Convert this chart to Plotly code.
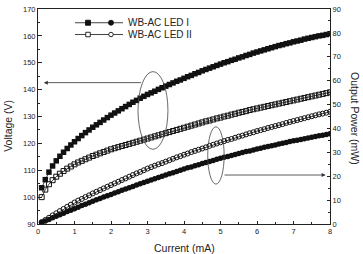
import plotly.graph_objects as go

current_mA = [0.1, 0.2, 0.3, 0.4, 0.5, 0.6, 0.7, 0.8, 0.9, 1.0,
              1.1, 1.2, 1.3, 1.4, 1.5, 1.6, 1.7, 1.8, 1.9, 2.0,
              2.1, 2.2, 2.3, 2.4, 2.5, 2.6, 2.7, 2.8, 2.9, 3.0,
              3.1, 3.2, 3.3, 3.4, 3.5, 3.6, 3.7, 3.8, 3.9, 4.0,
              4.1, 4.2, 4.3, 4.4, 4.5, 4.6, 4.7, 4.8, 4.9, 5.0,
              5.1, 5.2, 5.3, 5.4, 5.5, 5.6, 5.7, 5.8, 5.9, 6.0,
              6.1, 6.2, 6.3, 6.4, 6.5, 6.6, 6.7, 6.8, 6.9, 7.0,
              7.1, 7.2, 7.3, 7.4, 7.5, 7.6, 7.7, 7.8, 7.9, 8.0]

voltage_led1 = [103.5, 106.5, 109.3, 111.6, 113.5, 115.2, 116.7, 118.1, 119.4, 120.6,
                121.8, 122.9, 124.0, 125.0, 126.0, 126.9, 127.8, 128.7, 129.6, 130.5,
                131.3, 132.1, 132.9, 133.7, 134.5, 135.3, 136.0, 136.8, 137.5, 138.2,
                138.8, 139.4, 140.1, 140.7, 141.3, 141.9, 142.5, 143.1, 143.6, 144.2,
                144.8, 145.3, 145.9, 146.4, 147.0, 147.5, 148.0, 148.5, 149.0, 149.5,
                150.0, 150.4, 150.9, 151.3, 151.8, 152.2, 152.7, 153.1, 153.6, 154.0,
                154.4, 154.8, 155.2, 155.6, 156.0, 156.4, 156.7, 157.1, 157.4, 157.8,
                158.1, 158.4, 158.8, 159.1, 159.4, 159.7, 160.0, 160.2, 160.5, 160.8]

voltage_led2 = [100.0, 102.8, 104.8, 106.3, 107.6, 108.7, 109.7, 110.6, 111.4, 112.2,
                112.9, 113.5, 114.1, 114.7, 115.3, 115.8, 116.3, 116.8, 117.3, 117.8,
                118.2, 118.6, 119.0, 119.4, 119.8, 120.2, 120.6, 121.0, 121.4, 121.8,
                122.2, 122.6, 123.0, 123.4, 123.8, 124.2, 124.6, 125.0, 125.4, 125.8,
                126.2, 126.6, 127.0, 127.4, 127.8, 128.2, 128.5, 128.9, 129.3, 129.6,
                130.0, 130.3, 130.7, 131.0, 131.4, 131.7, 132.0, 132.4, 132.7, 133.0,
                133.3, 133.6, 133.9, 134.2, 134.5, 134.8, 135.1, 135.4, 135.7, 136.0,
                136.3, 136.6, 136.9, 137.2, 137.5, 137.8, 138.1, 138.4, 138.7, 139.0]

power_led1 = [0.6, 1.3, 1.9, 2.6, 3.2, 3.9, 4.5, 5.2, 5.8, 6.4,
              7.0, 7.7, 8.3, 8.9, 9.5, 10.1, 10.7, 11.3, 11.8, 12.4,
              13.0, 13.5, 14.1, 14.6, 15.2, 15.7, 16.3, 16.8, 17.4, 17.9,
              18.4, 18.9, 19.5, 20.0, 20.5, 21.0, 21.5, 22.0, 22.5, 23.0,
              23.5, 23.9, 24.4, 24.8, 25.3, 25.7, 26.2, 26.6, 27.1, 27.5,
              27.9, 28.3, 28.7, 29.1, 29.5, 29.9, 30.3, 30.6, 31.0, 31.4,
              31.7, 32.1, 32.4, 32.8, 33.1, 33.5, 33.8, 34.1, 34.5, 34.8,
              35.1, 35.4, 35.7, 36.0, 36.3, 36.6, 36.9, 37.2, 37.5, 37.8]

power_led2 = [0.8, 1.7, 2.6, 3.6, 4.5, 5.4, 6.3, 7.2, 8.1, 9.0,
              9.8, 10.5, 11.3, 12.0, 12.8, 13.5, 14.2, 14.9, 15.6, 16.3,
              17.0, 17.7, 18.4, 19.1, 19.8, 20.5, 21.2, 21.8, 22.5, 23.2,
              23.8, 24.4, 25.0, 25.5, 26.1, 26.7, 27.3, 27.9, 28.4, 29.0,
              29.5, 30.1, 30.6, 31.1, 31.6, 32.1, 32.7, 33.2, 33.7, 34.2,
              34.7, 35.2, 35.6, 36.1, 36.6, 37.0, 37.5, 38.0, 38.4, 38.9,
              39.3, 39.7, 40.2, 40.6, 41.0, 41.4, 41.8, 42.3, 42.7, 43.1,
              43.5, 43.9, 44.3, 44.7, 45.1, 45.5, 45.9, 46.2, 46.6, 47.0]

legend_labels = ["WB-AC LED I", "WB-AC LED II"]

FONT = "Liberation Sans, Arial, sans-serif"
INK = "#111111"

fig = go.Figure()

fig.add_trace(go.Scatter(x=current_mA, y=voltage_led1, mode="lines+markers",
                         line=dict(color=INK, width=0.8),
                         marker=dict(symbol="square", size=5.5, color=INK),
                         showlegend=False, yaxis="y"))
fig.add_trace(go.Scatter(x=current_mA, y=voltage_led2, mode="lines+markers",
                         line=dict(color=INK, width=0.8),
                         marker=dict(symbol="square-open", size=5, color=INK,
                                     line=dict(width=1, color=INK)),
                         showlegend=False, yaxis="y"))
fig.add_trace(go.Scatter(x=current_mA, y=power_led1, mode="lines+markers",
                         line=dict(color=INK, width=0.8),
                         marker=dict(symbol="circle", size=5.5, color=INK),
                         showlegend=False, yaxis="y2"))
fig.add_trace(go.Scatter(x=current_mA, y=power_led2, mode="lines+markers",
                         line=dict(color=INK, width=0.8),
                         marker=dict(symbol="circle-open", size=5, color=INK,
                                     line=dict(width=1, color=INK)),
                         showlegend=False, yaxis="y2"))

tickfont = dict(family=FONT, size=7.5, color="#222222")
axis_common = dict(showline=True, linecolor="#222222", linewidth=1,
                   ticks="inside", ticklen=3.5, tickwidth=0.8, tickcolor="#222222",
                   showgrid=False, zeroline=False, tickfont=tickfont)

fig.update_layout(
    width=363, height=254,
    margin=dict(l=38, r=33, t=5, b=30),
    paper_bgcolor="white", plot_bgcolor="white",
    xaxis=dict(range=[0, 8], dtick=1, mirror=True,
               minor=dict(dtick=0.5, ticks="inside", ticklen=2, tickcolor="#222222"),
               **axis_common),
    yaxis=dict(range=[90, 170], dtick=10,
               minor=dict(dtick=5, ticks="inside", ticklen=2, tickcolor="#222222"),
               **axis_common),
    yaxis2=dict(range=[0, 90], dtick=10, overlaying="y", side="right",
                minor=dict(dtick=5, ticks="inside", ticklen=2, tickcolor="#222222"),
                **axis_common),
    showlegend=False,
)

# axis titles
title_font = dict(family=FONT, size=10.5, color="#222222")
fig.add_annotation(text="Voltage (V)", xref="paper", yref="paper",
                   x=(8 - 38) / 292, y=(224 - 124) / 219, textangle=-90,
                   showarrow=False, font=title_font, xanchor="center", yanchor="middle")
fig.add_annotation(text="Output Power (mW)", xref="paper", yref="paper",
                   x=(355 - 38) / 292, y=(224 - 116) / 219, textangle=90,
                   showarrow=False, font=title_font, xanchor="center", yanchor="middle")
fig.add_annotation(text="Current (mA)", xref="paper", yref="paper",
                   x=0.5, y=(224 - 248) / 219,
                   showarrow=False, font=title_font, xanchor="center", yanchor="middle")

# ellipses
fig.add_shape(type="circle", xref="x", yref="y", x0=2.74, x1=3.56, y0=117.8, y1=146.7,
              line=dict(color="#444444", width=0.8))
fig.add_shape(type="circle", xref="x", yref="y2", x0=4.65, x1=5.10, y0=16.7, y1=40.7,
              line=dict(color="#444444", width=0.8))

# arrows
fig.add_annotation(x=0.16, y=142.6, xref="x", yref="y", ax=2.86, ay=142.6,
                   axref="x", ayref="y", showarrow=True, arrowhead=2, arrowsize=1,
                   arrowwidth=0.8, arrowcolor="#333333", text="")
fig.add_annotation(x=7.88, y=20.5, xref="x", yref="y2", ax=5.07, ay=20.5,
                   axref="x", ayref="y2", showarrow=True, arrowhead=2, arrowsize=1,
                   arrowwidth=0.8, arrowcolor="#333333", text="")

# legend drawn manually
def px(xp):
    return (xp - 38) / 292

def py(yp):
    return (224 - yp) / 219

rows = [19, 31]
for i, yrow in enumerate(rows):
    fig.add_shape(type="line", xref="paper", yref="paper",
                  x0=px(75), x1=px(123), y0=py(yrow), y1=py(yrow),
                  line=dict(color=INK, width=0.8))
    filled = i == 0
    s = 5 if filled else 4.5
    fig.add_shape(type="rect", xref="paper", yref="paper",
                  xsizemode="pixel", ysizemode="pixel",
                  xanchor=px(88), yanchor=py(yrow),
                  x0=-s / 2, x1=s / 2, y0=-s / 2, y1=s / 2,
                  fillcolor=INK if filled else "white",
                  line=dict(color=INK, width=0.9))
    fig.add_shape(type="circle", xref="paper", yref="paper",
                  xsizemode="pixel", ysizemode="pixel",
                  xanchor=px(111), yanchor=py(yrow),
                  x0=-s / 2, x1=s / 2, y0=-s / 2, y1=s / 2,
                  fillcolor=INK if filled else "white",
                  line=dict(color=INK, width=0.9))
    fig.add_annotation(text=legend_labels[i], xref="paper", yref="paper",
                       x=px(126), y=py(yrow), xanchor="left", yanchor="middle",
                       showarrow=False, font=dict(family=FONT, size=10, color="#222222"))

fig.write_html("out.html")
